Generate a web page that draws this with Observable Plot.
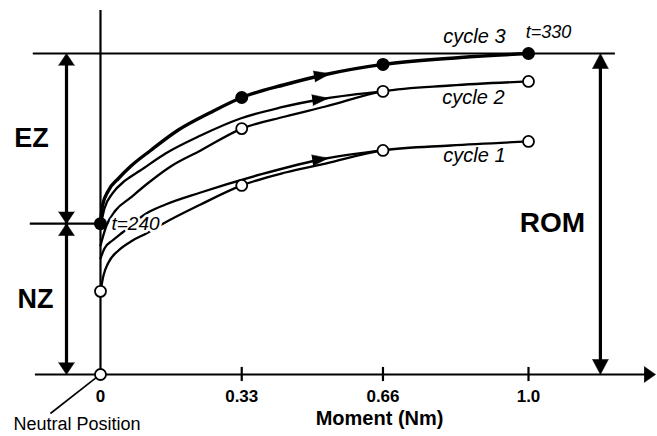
<!DOCTYPE html>
<html><head><meta charset="utf-8">
<script src="https://cdn.jsdelivr.net/npm/d3@7"></script>
<script src="https://cdn.jsdelivr.net/npm/@observablehq/plot@0.6"></script>
<style>body{margin:0;background:#fff;} svg{display:block;}</style>
</head><body><div id="chart"></div>
<script>
// ---- data ----
const moments = [0, 0.33, 0.66, 1.0];
const tickLabels = ["0", "0.33", "0.66", "1.0"];
const cycle3Dots = [4.70, 8.63, 9.66, 10.0];      // filled, at 0, 0.33, 0.66, 1.0
const cycle2Dots = [7.66, 8.82, 9.13];            // open, at 0.33, 0.66, 1.0
const cycle1Dots = [5.89, 6.98, 7.26];            // open, at 0.33, 0.66, 1.0
const romLevel = 10.0;
const ezStart = 4.70;      // t=240
const cycle1Start = 2.59;

// curves (moment, rotation units)
const c3x = [0, 0.0047, 0.0187, 0.042, 0.070, 0.117, 0.180, 0.257, 0.33, 0.432, 0.526, 0.66, 0.841, 1.0];
const c3y = [4.70, 5.265, 5.733, 6.106, 6.480, 6.978, 7.601, 8.162, 8.63, 9.034, 9.346, 9.66, 9.875, 10.0];
const c2ux = [0, 0.0093, 0.028, 0.058, 0.093, 0.152, 0.234, 0.327, 0.421, 0.526, 0.66];
const c2uy = [4.611, 5.171, 5.639, 6.044, 6.355, 6.885, 7.445, 7.975, 8.318, 8.598, 8.82];
const c2x = [0, 0.014, 0.035, 0.068, 0.110, 0.164, 0.234, 0.33, 0.432, 0.526, 0.66, 0.818, 1.0];
const c2y = [4.019, 4.642, 5.109, 5.483, 5.950, 6.480, 6.978, 7.66, 8.037, 8.349, 8.82, 9.003, 9.13];
const c1ux = [0, 0.0093, 0.028, 0.0514, 0.107, 0.152, 0.234, 0.374, 0.526, 0.66];
const c1uy = [3.614, 3.925, 4.174, 4.424, 5.016, 5.296, 5.670, 6.231, 6.729, 6.98];
const c1x = [0, 0.007, 0.0187, 0.042, 0.075, 0.107, 0.147, 0.234, 0.33, 0.432, 0.526, 0.66, 0.818, 1.0];
const c1y = [2.59, 3.084, 3.489, 3.863, 4.174, 4.393, 4.704, 5.296, 5.89, 6.293, 6.573, 6.98, 7.134, 7.26];

// ---- build ----
const W = 657, H = 436;
const xDom = [-0.2336, 1.3014], yDom = [-1.9315, 11.651];
const PX = W / (xDom[1] - xDom[0]), PY = H / (yDom[1] - yDom[0]);

const curves = [
  {name: "c3", xs: c3x, ys: c3y, w: 3.4},
  {name: "c2u", xs: c2ux, ys: c2uy, w: 2.3},
  {name: "c2", xs: c2x, ys: c2y, w: 2.3},
  {name: "c1u", xs: c1ux, ys: c1uy, w: 2.3},
  {name: "c1", xs: c1x, ys: c1y, w: 2.3}
];
const curvePts = curves.flatMap(c => c.xs.map((x, i) => ({x, y: c.ys[i], name: c.name, w: c.w})));

// arrowheads on curves: placed at moment ~0.53 on the upper curves
function headOn(xs, ys, xa) {
  let i = 0; while (i < xs.length - 2 && xs[i + 1] < xa) i++;
  const t = (xa - xs[i]) / (xs[i + 1] - xs[i]);
  const y = ys[i] + t * (ys[i + 1] - ys[i]);
  const rot = Math.atan2((xs[i + 1] - xs[i]) * PX, (ys[i + 1] - ys[i]) * PY) * 180 / Math.PI;
  return {x: xa, y, rot};
}
const curveHeads = [headOn(c3x, c3y, 0.536), headOn(c2ux, c2uy, 0.532), headOn(c1ux, c1uy, 0.532)];

const ezX = -0.0794, romX = 1.168;
const dimHeads = [
  {x: ezX, y: romLevel, rot: 0, l: 23},
  {x: ezX, y: ezStart, rot: 180, l: 23},
  {x: ezX, y: ezStart, rot: 0, l: 23},
  {x: ezX, y: 0, rot: 180, l: 23},
  {x: romX, y: romLevel, rot: 0, l: 29},
  {x: romX, y: 0, rot: 180, l: 29},
  {x: 1.297, y: 0, rot: 90, l: 22}
];

const filled = moments.map((m, i) => ({x: m, y: cycle3Dots[i]}));
const open = [
  ...moments.slice(1).map((m, i) => ({x: m, y: cycle2Dots[i]})),
  ...moments.slice(1).map((m, i) => ({x: m, y: cycle1Dots[i]})),
  {x: 0, y: cycle1Start}, {x: 0, y: 0}
];

const F = "Liberation Sans, Arial, Helvetica, sans-serif";
const txt = (data, o) => Plot.text(data, {fontFamily: F, fill: "black", ...o});

const chart = Plot.plot({
  width: W, height: H,
  marginTop: 0, marginRight: 0, marginBottom: 0, marginLeft: 0,
  x: {domain: xDom, range: [0, W], axis: null},
  y: {domain: yDom, range: [H, 0], axis: null},
  style: {background: "white", overflow: "visible"},
  marks: [
    // frame lines
    Plot.ruleX([0], {y1: 0, y2: 11.34, strokeWidth: 2.2}),
    Plot.ruleY([0], {x1: -0.152, x2: 1.28, strokeWidth: 2.2}),
    Plot.ruleY([romLevel], {x1: -0.157, x2: 1.203, strokeWidth: 2.2}),
    Plot.ruleY([ezStart], {x1: -0.164, x2: 0, strokeWidth: 2.2}),
    // dimension arrows
    Plot.ruleX([ezX], {y1: ezStart, y2: romLevel - 0.3, strokeWidth: 3.2}),
    Plot.ruleX([ezX], {y1: 0.3, y2: ezStart, strokeWidth: 3.2}),
    Plot.ruleX([romX], {y1: 0.3, y2: romLevel - 0.3, strokeWidth: 3.2}),
    Plot.vector(dimHeads, {x: "x", y: "y", rotate: "rot", length: "l", r: 8, shape: "spike", anchor: "end", fill: "black", stroke: "black", strokeWidth: 0.5}),
    // x ticks
    Plot.ruleX(moments.slice(1), {y1: 0.22, y2: -0.22, strokeWidth: 2.2}),
    txt(moments, {x: d => d, y: -0.70, text: (d, i) => tickLabels[i], fontSize: 17, fontWeight: "bold"}),
    txt([0.652], {x: d => d, y: -1.36, text: () => "Moment (Nm)", fontSize: 20, fontWeight: "bold"}),
    // curves
    Plot.line(curvePts, {x: "x", y: "y", z: "name", strokeWidth: "w", curve: "monotone-x", stroke: "black"}),
    Plot.vector(curveHeads, {x: "x", y: "y", rotate: "rot", length: 16, r: 5.5, shape: "spike", anchor: "end", fill: "black", stroke: "black", strokeWidth: 0.5}),
    // dots
    Plot.dot(open, {x: "x", y: "y", r: 5.5, fill: "white", stroke: "black", strokeWidth: 1.8}),
    Plot.dot(filled, {x: "x", y: "y", r: 6.5, fill: "black"}),
    // labels
    txt([{x: 0, y: ezStart}], {x: "x", y: "y", dx: 11, dy: 0, text: () => "t=240", textAnchor: "start", fontSize: 19, fontStyle: "italic", stroke: "white", strokeWidth: 5}),
    txt([{x: 1.0, y: romLevel}], {x: "x", y: "y", dx: 20, dy: -21, text: () => "t=330", fontSize: 18, fontStyle: "italic"}),
    txt([{x: 1.0, y: cycle3Dots[3]}], {x: "x", y: "y", dx: -54, dy: -17, text: () => "cycle 3", fontSize: 20, fontStyle: "italic"}),
    txt([{x: 1.0, y: cycle2Dots[2]}], {x: "x", y: "y", dx: -55, dy: 16, text: () => "cycle 2", fontSize: 20, fontStyle: "italic"}),
    txt([{x: 1.0, y: cycle1Dots[2]}], {x: "x", y: "y", dx: -54, dy: 14, text: () => "cycle 1", fontSize: 20, fontStyle: "italic"}),
    txt([{x: ezX, y: (ezStart + romLevel) / 2}], {x: "x", y: "y", dx: -35, text: () => "EZ", fontSize: 27, fontWeight: "bold"}),
    txt([{x: ezX, y: ezStart / 2}], {x: "x", y: "y", dx: -31, text: () => "NZ", fontSize: 27, fontWeight: "bold"}),
    txt([{x: romX, y: romLevel / 2}], {x: "x", y: "y", dx: -48, dy: 9, text: () => "ROM", fontSize: 28, fontWeight: "bold"}),
    // neutral position
    Plot.link([{x1: -0.117, y1: -1.215, x2: -0.0093, y2: -0.093}], {x1: "x1", y1: "y1", x2: "x2", y2: "y2", strokeWidth: 1.6}),
    txt([{x: 0, y: 0}], {x: "x", y: "y", dx: -87, dy: 50, text: () => "Neutral Position", textAnchor: "start", fontSize: 18})
  ]
});
document.getElementById("chart").append(chart);
</script>
</body></html>
